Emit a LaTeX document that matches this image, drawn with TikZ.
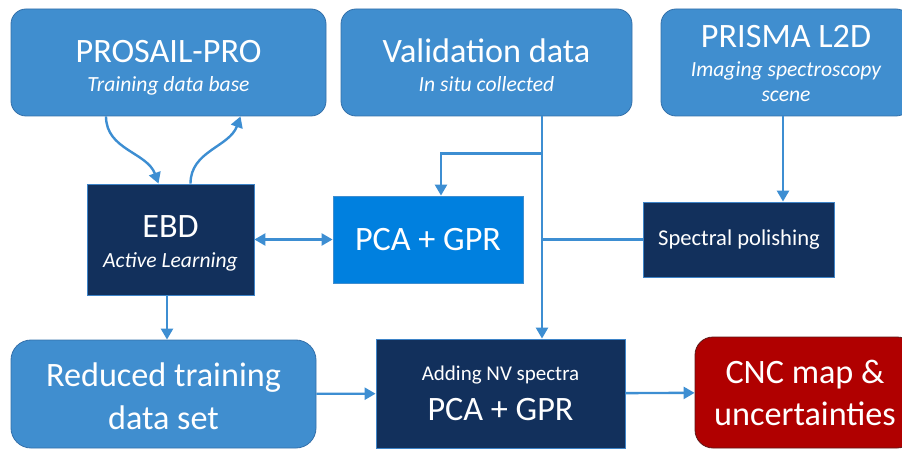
\documentclass[tikz,border=0pt]{standalone}
\usepackage{fontspec}
\setmainfont{Carlito}
\usetikzlibrary{arrows.meta}

\definecolor{boxblue}{RGB}{64,142,207}
\definecolor{boxedge}{RGB}{52,112,170}
\definecolor{navy}{RGB}{18,48,92}
\definecolor{navyedge}{RGB}{62,132,200}
\definecolor{brightblue}{RGB}{0,128,223}
\definecolor{cncred}{RGB}{176,0,0}
\definecolor{cncedge}{RGB}{96,24,24}
\definecolor{flowblue}{RGB}{61,142,210}

\newcommand{\subfont}{\fontsize{21.6}{24}\selectfont\itshape}
\newcommand{\topstrut}[1]{\rule{0pt}{#1}}

\begin{document}
\begin{tikzpicture}[x=1pt,y=1pt,
                    every node/.style={text=white,align=center,inner sep=0pt},
                    tight/.style={font=\fontsize{34.2}{29.5}\selectfont},
                    loose/.style={font=\fontsize{34.2}{42}\selectfont},
                    inbox/.style={rectangle,rounded corners=15pt,fill=boxblue,draw=boxedge,line width=0.8pt},
                    calcbox/.style={rectangle,fill=navy,draw=navyedge,line width=0.8pt},
                    flow/.style={draw=flowblue,line width=2.4pt,-{Triangle[length=11pt,width=12pt]}},
                    link/.style={draw=flowblue,line width=2.4pt}]
  \useasboundingbox (0,0) rectangle (902,-454);

  % top row: inputs
  \node[inbox,tight,minimum width=315pt,minimum height=107pt] (prosail) at (168.5,-62.5)
       {\topstrut{32.5pt}PROSAIL-PRO\\{\subfont Training data base}};
  \node[inbox,tight,minimum width=291pt,minimum height=107pt] (valid) at (486.5,-62.5)
       {\topstrut{29pt}Validation data\\{\subfont In situ collected}};
  \node[inbox,tight,minimum width=250pt,minimum height=107pt] (prisma) at (786,-62.5)
       {\topstrut{24pt}PRISMA L2D\\{\subfont Imaging spectroscopy}\\[-5pt]{\subfont scene}};

  % middle row
  \node[calcbox,tight,minimum width=167pt,minimum height=111pt] (ebd) at (170.5,-239.5)
       {\topstrut{29.5pt}EBD\\{\subfont Active Learning}};
  \node[calcbox,tight,fill=brightblue,draw=boxblue,minimum width=190pt,minimum height=87pt] (pca) at (428,-239.5)
       {PCA + GPR};
  \node[calcbox,font=\fontsize{22.6}{26}\selectfont,minimum width=191pt,minimum height=75pt] (polish) at (739,-239.5)
       {Spectral polishing};

  % bottom row
  \node[inbox,font=\fontsize{34.2}{43}\selectfont,rounded corners=20pt,minimum width=305pt,minimum height=108pt] (reduced) at (163.5,-394)
       {\topstrut{29pt}Reduced training\\data set};
  \node[calcbox,font=\fontsize{34.2}{40}\selectfont,minimum width=249pt,minimum height=109pt] (nv) at (500.5,-393.5)
       {{\fontsize{21}{24}\selectfont Adding NV spectra}\\PCA + GPR};
  \node[inbox,loose,fill=cncred,draw=cncedge,rounded corners=18pt,minimum width=220pt,minimum height=111pt] (cnc) at (805,-392.5)
       {CNC map \&\\uncertainties};

  % junctions on the validation line
  \coordinate (vdown) at ([xshift=55.5pt]valid.south);
  \coordinate (vsplit) at ([yshift=-37pt]vdown);

  \draw[flow] ([xshift=-62.5pt]prosail.south) to[out=-90,in=110] ([xshift=-12pt]ebd.north);
  \draw[flow] ([xshift=20pt]ebd.north) to[out=90,in=-110] ([xshift=72pt]prosail.south);
  \draw[flow] (vdown) -- (vdown |- nv.north);
  \draw[flow] (vsplit) -| ([xshift=13pt]pca.north);
  \draw[link] (polish.west) -- (polish.west -| vdown);
  \draw[flow] ([xshift=-3pt]prisma.south) -- ([xshift=-3pt]prisma.south |- polish.north);
  \draw[flow,{Triangle[length=11pt,width=12pt]}-{Triangle[length=11pt,width=12pt]}] (ebd) -- (pca);
  \draw[flow] (ebd.south -| 167,0) -- (reduced.north -| 167,0);
  \draw[flow] (reduced) -- (nv);
  \draw[flow] (nv) -- (cnc);
\end{tikzpicture}
\end{document}
